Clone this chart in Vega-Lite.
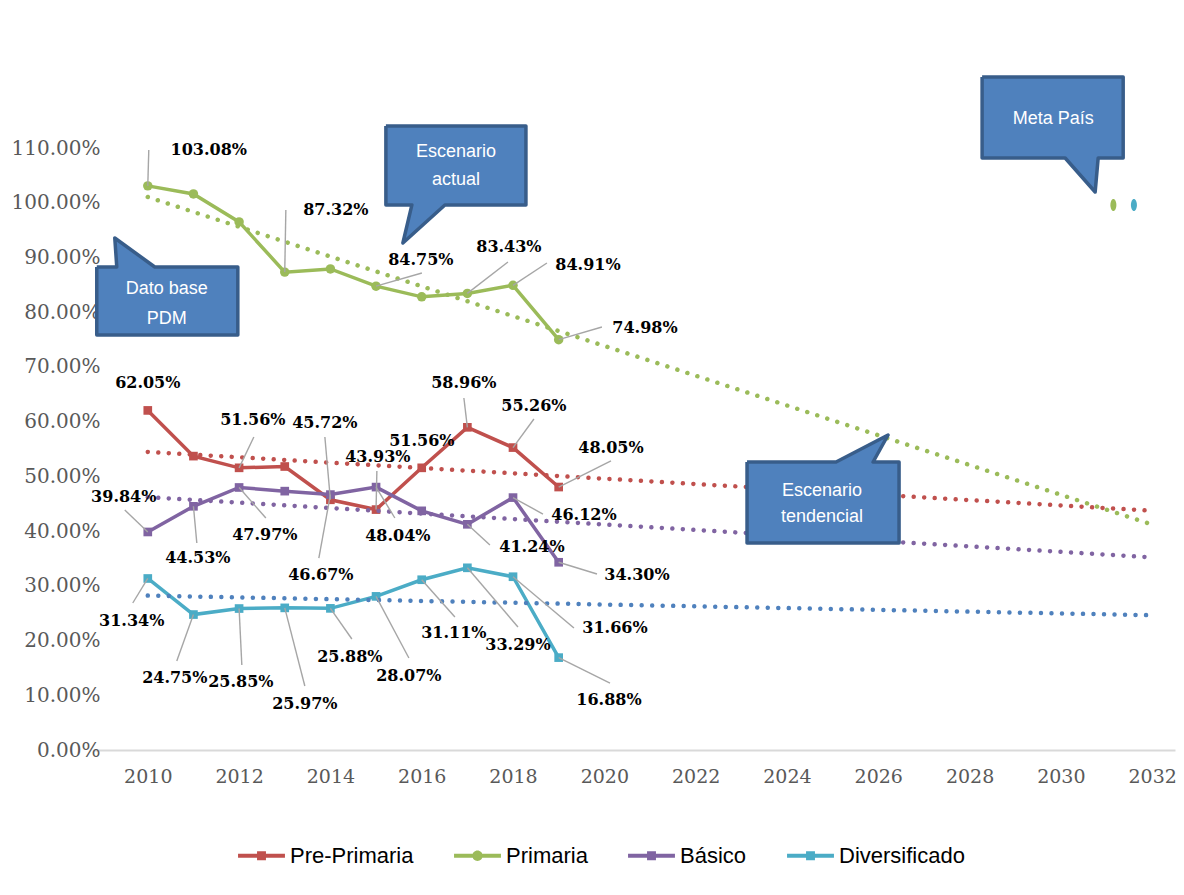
{
  "$schema": "https://vega.github.io/schema/vega-lite/v6.json",
  "width": 1082,
  "height": 602,
  "autosize": {"type": "none"},
  "padding": {"left": 93, "top": 148, "right": 9, "bottom": 145},
  "background": "white",
  "config": {"view": {"stroke": null}, "font": "Liberation Sans"},
  "datasets": {
    "series": [
      {"series": "Pre-Primaria", "year": 2010, "value": 0.6205, "lx": 2010, "ly": 0.6706, "ex": 2010, "ey": 0.6205},
      {"series": "Pre-Primaria", "year": 2011, "value": 0.537},
      {"series": "Pre-Primaria", "year": 2012, "value": 0.5156, "lx": 2012.301, "ly": 0.603, "ex": 2012.323, "ey": 0.5719},
      {"series": "Pre-Primaria", "year": 2013, "value": 0.518},
      {"series": "Pre-Primaria", "year": 2014, "value": 0.4572, "lx": 2013.879, "ly": 0.5975, "ex": 2013.879, "ey": 0.5719},
      {"series": "Pre-Primaria", "year": 2015, "value": 0.4393, "lx": 2015.04, "ly": 0.5354, "ex": 2015.018, "ey": 0.5098},
      {"series": "Pre-Primaria", "year": 2016, "value": 0.5156, "lx": 2016.004, "ly": 0.5646, "ex": 2016, "ey": 0.5156},
      {"series": "Pre-Primaria", "year": 2017, "value": 0.5896, "lx": 2016.924, "ly": 0.6706, "ex": 2016.924, "ey": 0.6432},
      {"series": "Pre-Primaria", "year": 2018, "value": 0.5526, "lx": 2018.458, "ly": 0.6286, "ex": 2018.458, "ey": 0.6048},
      {"series": "Pre-Primaria", "year": 2019, "value": 0.4805, "lx": 2020.146, "ly": 0.5518, "ex": 2020.146, "ey": 0.5281},
      {"series": "Primaria", "year": 2010, "value": 1.0308, "lx": 2011.337, "ly": 1.0964, "ex": 2010.022, "ey": 1.0964},
      {"series": "Primaria", "year": 2011, "value": 1.016},
      {"series": "Primaria", "year": 2012, "value": 0.965},
      {"series": "Primaria", "year": 2013, "value": 0.8732, "lx": 2014.12, "ly": 0.9867, "ex": 2013.024, "ey": 0.9867},
      {"series": "Primaria", "year": 2014, "value": 0.879},
      {"series": "Primaria", "year": 2015, "value": 0.8475, "lx": 2015.982, "ly": 0.8953, "ex": 2016.004, "ey": 0.8716},
      {"series": "Primaria", "year": 2016, "value": 0.828},
      {"series": "Primaria", "year": 2017, "value": 0.8343, "lx": 2017.91, "ly": 0.9191, "ex": 2017.889, "ey": 0.8917},
      {"series": "Primaria", "year": 2018, "value": 0.8491, "lx": 2019.642, "ly": 0.8862, "ex": 2018.743, "ey": 0.8899},
      {"series": "Primaria", "year": 2019, "value": 0.7498, "lx": 2020.891, "ly": 0.7711, "ex": 2019.948, "ey": 0.7729},
      {"series": "Básico", "year": 2010, "value": 0.3984, "lx": 2009.474, "ly": 0.4623, "ex": 2009.496, "ey": 0.4385},
      {"series": "Básico", "year": 2011, "value": 0.4453, "lx": 2011.096, "ly": 0.3508, "ex": 2011.074, "ey": 0.3782},
      {"series": "Básico", "year": 2012, "value": 0.4797, "lx": 2012.564, "ly": 0.3929, "ex": 2012.586, "ey": 0.4239},
      {"series": "Básico", "year": 2013, "value": 0.473},
      {"series": "Básico", "year": 2014, "value": 0.4667, "lx": 2013.791, "ly": 0.3198, "ex": 2013.747, "ey": 0.3508},
      {"series": "Básico", "year": 2015, "value": 0.4804, "lx": 2015.478, "ly": 0.391, "ex": 2015.412, "ey": 0.4239},
      {"series": "Básico", "year": 2016, "value": 0.437},
      {"series": "Básico", "year": 2017, "value": 0.4124, "lx": 2018.415, "ly": 0.3709, "ex": 2017.494, "ey": 0.3746},
      {"series": "Básico", "year": 2018, "value": 0.4612, "lx": 2019.554, "ly": 0.4294, "ex": 2018.656, "ey": 0.4312},
      {"series": "Básico", "year": 2019, "value": 0.343, "lx": 2020.715, "ly": 0.3198, "ex": 2019.839, "ey": 0.3216},
      {"series": "Diversificado", "year": 2010, "value": 0.3134, "lx": 2009.649, "ly": 0.2357, "ex": 2009.671, "ey": 0.2686},
      {"series": "Diversificado", "year": 2011, "value": 0.2475, "lx": 2010.592, "ly": 0.1316, "ex": 2010.635, "ey": 0.1626},
      {"series": "Diversificado", "year": 2012, "value": 0.2585, "lx": 2012.038, "ly": 0.1243, "ex": 2012.06, "ey": 0.1553},
      {"series": "Diversificado", "year": 2013, "value": 0.2597, "lx": 2013.44, "ly": 0.0841, "ex": 2013.44, "ey": 0.1169},
      {"series": "Diversificado", "year": 2014, "value": 0.2588, "lx": 2014.426, "ly": 0.1699, "ex": 2014.47, "ey": 0.2028},
      {"series": "Diversificado", "year": 2015, "value": 0.2807, "lx": 2015.719, "ly": 0.1352, "ex": 2015.719, "ey": 0.1681},
      {"series": "Diversificado", "year": 2016, "value": 0.3111, "lx": 2016.705, "ly": 0.2138, "ex": 2016.727, "ey": 0.243},
      {"series": "Diversificado", "year": 2017, "value": 0.3329, "lx": 2018.108, "ly": 0.1919, "ex": 2018.108, "ey": 0.2248},
      {"series": "Diversificado", "year": 2018, "value": 0.3166, "lx": 2020.233, "ly": 0.2229, "ex": 2019.335, "ey": 0.2229},
      {"series": "Diversificado", "year": 2019, "value": 0.1688, "lx": 2020.102, "ly": 0.0914, "ex": 2020.124, "ey": 0.1224}
    ],
    "trend": [
      {"series": "Pre-Primaria", "year": 2010, "value": 0.5446},
      {"series": "Pre-Primaria", "year": 2032, "value": 0.4371},
      {"series": "Primaria", "year": 2010, "value": 1.0105},
      {"series": "Primaria", "year": 2032, "value": 0.412},
      {"series": "Básico", "year": 2010, "value": 0.462},
      {"series": "Básico", "year": 2032, "value": 0.352},
      {"series": "Diversificado", "year": 2010, "value": 0.2821},
      {"series": "Diversificado", "year": 2032, "value": 0.2463}
    ],
    "meta": [
      {"series": "Primaria", "year": 2031.15, "value": 0.996},
      {"series": "Diversificado", "year": 2031.6, "value": 0.996}
    ],
    "callouts": [
      {"id": "dato", "i": 0, "year": 2008.8825, "value": 0.8826},
      {"id": "dato", "i": 1, "year": 2009.3207, "value": 0.8826},
      {"id": "dato", "i": 2, "year": 2009.2769, "value": 0.9356},
      {"id": "dato", "i": 3, "year": 2010.1534, "value": 0.8826},
      {"id": "dato", "i": 4, "year": 2011.9721, "value": 0.8826},
      {"id": "dato", "i": 5, "year": 2011.9721, "value": 0.7583},
      {"id": "dato", "i": 6, "year": 2008.8825, "value": 0.7583},
      {"id": "dato", "i": 7, "year": 2008.8825, "value": 0.8826},
      {"id": "actual", "i": 0, "year": 2015.2152, "value": 1.1402},
      {"id": "actual", "i": 1, "year": 2018.283, "value": 1.1402},
      {"id": "actual", "i": 2, "year": 2018.283, "value": 0.9959},
      {"id": "actual", "i": 3, "year": 2016.508, "value": 0.9959},
      {"id": "actual", "i": 4, "year": 2015.5877, "value": 0.9264},
      {"id": "actual", "i": 5, "year": 2015.7849, "value": 0.9959},
      {"id": "actual", "i": 6, "year": 2015.2152, "value": 0.9959},
      {"id": "actual", "i": 7, "year": 2015.2152, "value": 1.1402},
      {"id": "meta", "i": 0, "year": 2028.275, "value": 1.2297},
      {"id": "meta", "i": 1, "year": 2031.365, "value": 1.2297},
      {"id": "meta", "i": 2, "year": 2031.365, "value": 1.0817},
      {"id": "meta", "i": 3, "year": 2030.817, "value": 1.0817},
      {"id": "meta", "i": 4, "year": 2030.751, "value": 1.0196},
      {"id": "meta", "i": 5, "year": 2030.094, "value": 1.0817},
      {"id": "meta", "i": 6, "year": 2028.275, "value": 1.0817},
      {"id": "meta", "i": 7, "year": 2028.275, "value": 1.2297},
      {"id": "tend", "i": 0, "year": 2023.126, "value": 0.5262},
      {"id": "tend", "i": 1, "year": 2025.076, "value": 0.5262},
      {"id": "tend", "i": 2, "year": 2026.215, "value": 0.5756},
      {"id": "tend", "i": 3, "year": 2025.887, "value": 0.5262},
      {"id": "tend", "i": 4, "year": 2026.456, "value": 0.5262},
      {"id": "tend", "i": 5, "year": 2026.456, "value": 0.3782},
      {"id": "tend", "i": 6, "year": 2023.126, "value": 0.3782},
      {"id": "tend", "i": 7, "year": 2023.126, "value": 0.5262}
    ],
    "callout_text": [
      {"text": "Dato base", "year": 2010.416, "value": 0.8424},
      {"text": "PDM", "year": 2010.416, "value": 0.7875},
      {"text": "Escenario", "year": 2016.749, "value": 1.0927},
      {"text": "actual", "year": 2016.749, "value": 1.0415},
      {"text": "Meta  País", "year": 2029.831, "value": 1.153},
      {"text": "Escenario", "year": 2024.769, "value": 0.4733},
      {"text": "tendencial", "year": 2024.769, "value": 0.4257}
    ]
  },
  "layer": [
    {
      "data": {"name": "series"},
      "mark": {"type": "point", "filled": true, "opacity": 0, "size": 2200},
      "encoding": {
        "x": {"field": "year", "type": "quantitative",
          "scale": {"domain": [2008.8, 2032.5], "nice": false, "zero": false},
          "axis": {"values": [2010, 2012, 2014, 2016, 2018, 2020, 2022, 2024, 2026, 2028, 2030, 2032], "format": "d", "title": null, "grid": false, "ticks": false, "domain": true, "domainColor": "#d9d9d9", "domainWidth": 2, "labelFont": "DejaVu Serif", "labelFontSize": 19, "labelColor": "#595959", "labelPadding": 17, "labelFlush": false, "labelOverlap": false}},
        "y": {"field": "value", "type": "quantitative",
          "scale": {"domain": [0, 1.1], "nice": false, "zero": false},
          "axis": {"values": [0, 0.1, 0.2, 0.3, 0.4, 0.5, 0.6, 0.7, 0.8, 0.9, 1.0, 1.1], "format": ".2%", "title": null, "grid": false, "ticks": false, "domain": false, "labelFont": "DejaVu Serif", "labelFontSize": 20, "labelColor": "#595959", "labelPadding": -7, "labelOverlap": false}},
        "color": {"field": "series", "type": "nominal",
          "scale": {"domain": ["Pre-Primaria", "Primaria", "Básico", "Diversificado"], "range": ["#c0504d", "#9bbb59", "#8064a2", "#4bacc6"]},
          "legend": {"orient": "none", "legendX": 145, "legendY": 684, "direction": "horizontal", "title": null, "symbolSize": 2200, "symbolOpacity": 1, "symbolStrokeWidth": 0, "labelFont": "Liberation Sans", "labelFontSize": 22, "labelColor": "#000000", "labelOffset": 5, "columnPadding": 40, "padding": 0}},
        "shape": {"field": "series", "type": "nominal",
          "scale": {"domain": ["Pre-Primaria", "Primaria", "Básico", "Diversificado"],
            "range": [
              "M-1,-0.085 L1,-0.085 L1,0.085 L-1,0.085 Z M-0.19,-0.19 L0.19,-0.19 L0.19,0.19 L-0.19,0.19 Z",
              "M-1,-0.085 L1,-0.085 L1,0.085 L-1,0.085 Z M0.22,0 A0.22,0.22 0 1 1 -0.22,0 A0.22,0.22 0 1 1 0.22,0 Z",
              "M-1,-0.085 L1,-0.085 L1,0.085 L-1,0.085 Z M-0.19,-0.19 L0.19,-0.19 L0.19,0.19 L-0.19,0.19 Z",
              "M-1,-0.085 L1,-0.085 L1,0.085 L-1,0.085 Z M-0.19,-0.19 L0.19,-0.19 L0.19,0.19 L-0.19,0.19 Z"
            ]},
          "legend": {"orient": "none", "legendX": 145, "legendY": 684, "direction": "horizontal", "title": null, "symbolSize": 2200, "symbolOpacity": 1, "symbolStrokeWidth": 0, "labelFont": "Liberation Sans", "labelFontSize": 22, "labelColor": "#000000", "labelOffset": 5, "columnPadding": 40, "padding": 0}}
      }
    },
    {
      "data": {"name": "series"},
      "mark": {"type": "line", "strokeWidth": 3.5},
      "encoding": {
        "x": {"field": "year", "type": "quantitative"},
        "y": {"field": "value", "type": "quantitative"},
        "color": {"field": "series", "type": "nominal", "legend": null},
        "detail": {"field": "series"}
      }
    },
    {
      "data": {"name": "series"},
      "transform": [{"filter": "datum.series !== 'Primaria'"}],
      "mark": {"type": "point", "shape": "square", "filled": true, "opacity": 1, "size": 75},
      "encoding": {
        "x": {"field": "year", "type": "quantitative"},
        "y": {"field": "value", "type": "quantitative"},
        "color": {"field": "series", "type": "nominal", "legend": null}
      }
    },
    {
      "data": {"name": "series"},
      "transform": [{"filter": "datum.series === 'Primaria'"}],
      "mark": {"type": "point", "shape": "circle", "filled": true, "opacity": 1, "size": 90},
      "encoding": {
        "x": {"field": "year", "type": "quantitative"},
        "y": {"field": "value", "type": "quantitative"},
        "color": {"field": "series", "type": "nominal", "legend": null}
      }
    },
    {
      "data": {"name": "trend"},
      "mark": {"type": "line", "strokeWidth": 4.5, "strokeDash": [0.01, 10.5], "strokeCap": "round"},
      "encoding": {
        "x": {"field": "year", "type": "quantitative"},
        "y": {"field": "value", "type": "quantitative"},
        "stroke": {"field": "series", "type": "nominal",
          "scale": {"domain": ["Pre-Primaria", "Primaria", "Básico", "Diversificado"], "range": ["#c0504d", "#9bbb59", "#8064a2", "#4f81bd"]},
          "legend": null},
        "detail": {"field": "series"}
      }
    },
    {
      "data": {"name": "series"},
      "transform": [{"filter": "isValid(datum.lx)"}],
      "mark": {"type": "rule", "color": "#a6a6a6", "strokeWidth": 1.4},
      "encoding": {
        "x": {"field": "year", "type": "quantitative"},
        "y": {"field": "value", "type": "quantitative"},
        "x2": {"field": "ex"},
        "y2": {"field": "ey"}
      }
    },
    {
      "data": {"name": "series"},
      "transform": [{"filter": "isValid(datum.lx)"}],
      "mark": {"type": "text", "font": "DejaVu Serif", "fontWeight": "bold", "fontSize": 16, "color": "#000000", "align": "center", "baseline": "middle"},
      "encoding": {
        "x": {"field": "lx", "type": "quantitative"},
        "y": {"field": "ly", "type": "quantitative"},
        "text": {"field": "value", "type": "quantitative", "format": ".2%"}
      }
    },
    {
      "data": {"name": "meta"},
      "mark": {"type": "point", "shape": "M0,-1 A0.5,1 0 1 1 0,1 A0.5,1 0 1 1 0,-1 Z", "filled": true, "opacity": 1, "size": 144},
      "encoding": {
        "x": {"field": "year", "type": "quantitative"},
        "y": {"field": "value", "type": "quantitative"},
        "color": {"field": "series", "type": "nominal", "legend": null}
      }
    },
    {
      "data": {"name": "callouts"},
      "mark": {"type": "line", "fill": "#4f81bd", "stroke": "#385d8a", "strokeWidth": 3.5, "strokeJoin": "round"},
      "encoding": {
        "x": {"field": "year", "type": "quantitative"},
        "y": {"field": "value", "type": "quantitative"},
        "detail": {"field": "id"},
        "order": {"field": "i", "type": "quantitative"}
      }
    },
    {
      "data": {"name": "callout_text"},
      "mark": {"type": "text", "font": "Liberation Sans", "fontSize": 18, "color": "#ffffff", "align": "center", "baseline": "middle"},
      "encoding": {
        "x": {"field": "year", "type": "quantitative"},
        "y": {"field": "value", "type": "quantitative"},
        "text": {"field": "text"}
      }
    }
  ]
}
